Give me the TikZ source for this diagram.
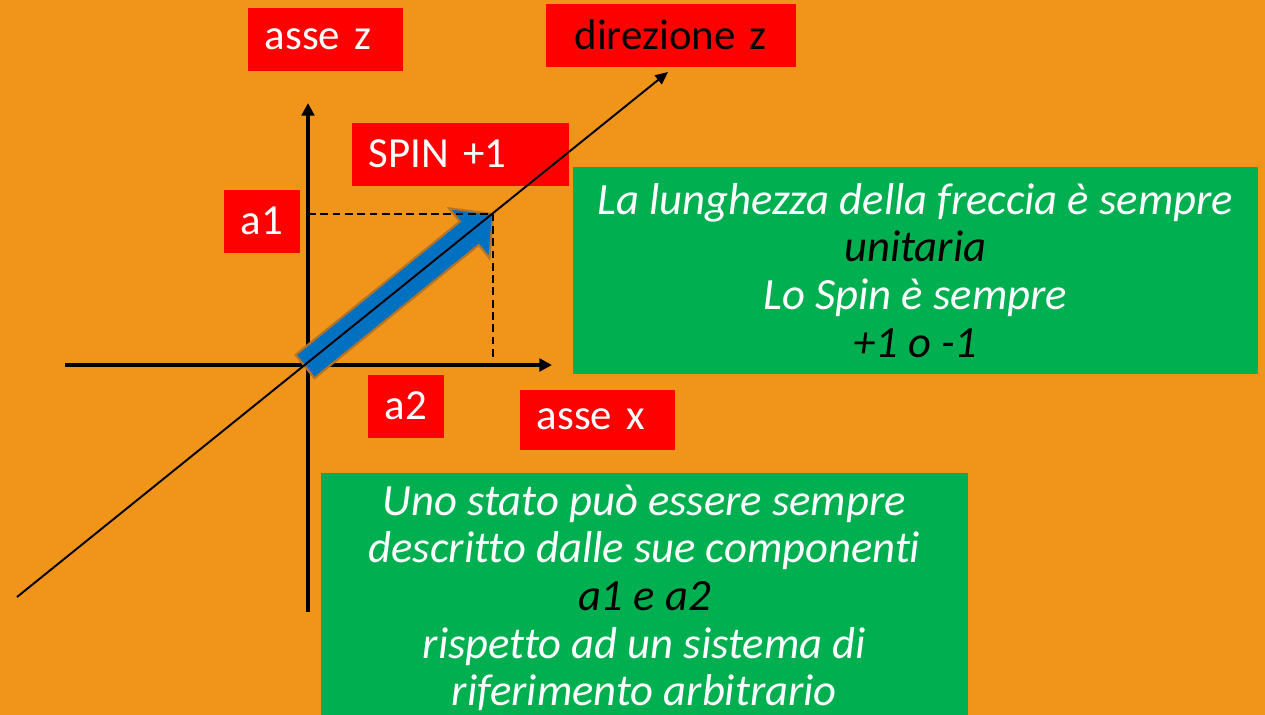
\documentclass[tikz,border=0pt]{standalone}
\usepackage{fontspec}
\setmainfont[Ligatures=NoCommon]{Carlito}
\usetikzlibrary{arrows.meta,calc}
\definecolor{sfondo}{RGB}{240,149,26}
\definecolor{rosso}{RGB}{255,0,0}
\definecolor{verde}{RGB}{0,176,80}
\definecolor{blu}{RGB}{0,112,192}
\definecolor{bordo}{RGB}{180,116,40}

\begin{document}
\begin{tikzpicture}[x=0.01cm,y=-0.01cm,
    every node/.style={anchor=north west,font=\fontsize{12.2}{13.6}\selectfont},
    etichetta/.style={fill=rosso,text=white,inner xsep=0.17cm,inner ysep=0pt,minimum height=0.63cm,align=left},
    nota/.style={fill=verde,text=white,inner sep=0pt,align=center,font=\fontsize{12.7}{13.55}\selectfont\itshape},
    asse/.style={line width=1.1pt,-{Triangle[length=3.6pt,width=3.6pt]}},
    tratteggio/.style={line width=0.5pt,dash pattern=on 2.2pt off 1.3pt}]
    \useasboundingbox[fill=sfondo] (0,0) rectangle (1265,715);
    % assi e direzione
    \coordinate (origine) at (308,365);
    \coordinate (zfondo) at (308,612);
    \coordinate (zcima) at (308,103);
    \coordinate (xinizio) at (65,365);
    \coordinate (xfine) at (552,365);
    \coordinate (dinizio) at (17,597);
    \coordinate (dfine) at (668,72);
    \coordinate (coda) at (305,366.5);
    \coordinate (punta) at (493,214);
    \coordinate (collo) at ($(coda)!0.874!(punta)$);
    \draw[asse] (zfondo) -- (zcima);
    \draw[asse] (xinizio) -- (xfine);
    % freccia dello spin
    \filldraw[fill=blu,draw=bordo,line width=0.6pt,line join=miter]
        ($(coda)!0.15cm!90:(punta)$) -- ($(collo)!0.15cm!-90:(coda)$) -- ($(collo)!0.32cm!-90:(coda)$)
        -- (punta) -- ($(collo)!0.32cm!90:(coda)$) -- ($(collo)!0.15cm!90:(coda)$)
        -- ($(coda)!0.15cm!-90:(punta)$) -- cycle;
    \draw[tratteggio] (punta -| origine) -- (punta) -- (493,360);
    % etichette
    \node[etichetta,text width=1.21cm] (assez) at (247,7) {asse z};
    \node[etichetta,text width=2.16cm,text=black,align=center] (direzione) at (545,3) {direzione z};
    \node[etichetta,text width=1.83cm] (spin) at (351,122) {SPIN +1};
    \node[etichetta,text width=0.42cm] (a1) at (223,189) {a1};
    \node[etichetta,text width=0.42cm] (a2) at (367,374) {a2};
    \node[etichetta,text width=1.21cm,minimum height=0.6cm] (assex) at (519,389) {asse x};
    \node[nota,minimum width=6.85cm,minimum height=2.07cm] (lunghezza) at (572,166)
        {La lunghezza della freccia è sempre\\ {\color{black}unitaria}\\ Lo Spin è sempre\\ {\color{black}+1 o -1}};
    \node[nota,minimum width=6.47cm,minimum height=2.5cm] (stato) at (320,472)
        {Uno stato può essere sempre\\ descritto dalle sue componenti\\ {\color{black}a1 e a2}\\ rispetto ad un sistema di\\ riferimento arbitrario};
    \draw[line width=0.55pt,-{Triangle[length=3.6pt,width=3.2pt]}] (dinizio) -- (dfine);
\end{tikzpicture}
\end{document}
